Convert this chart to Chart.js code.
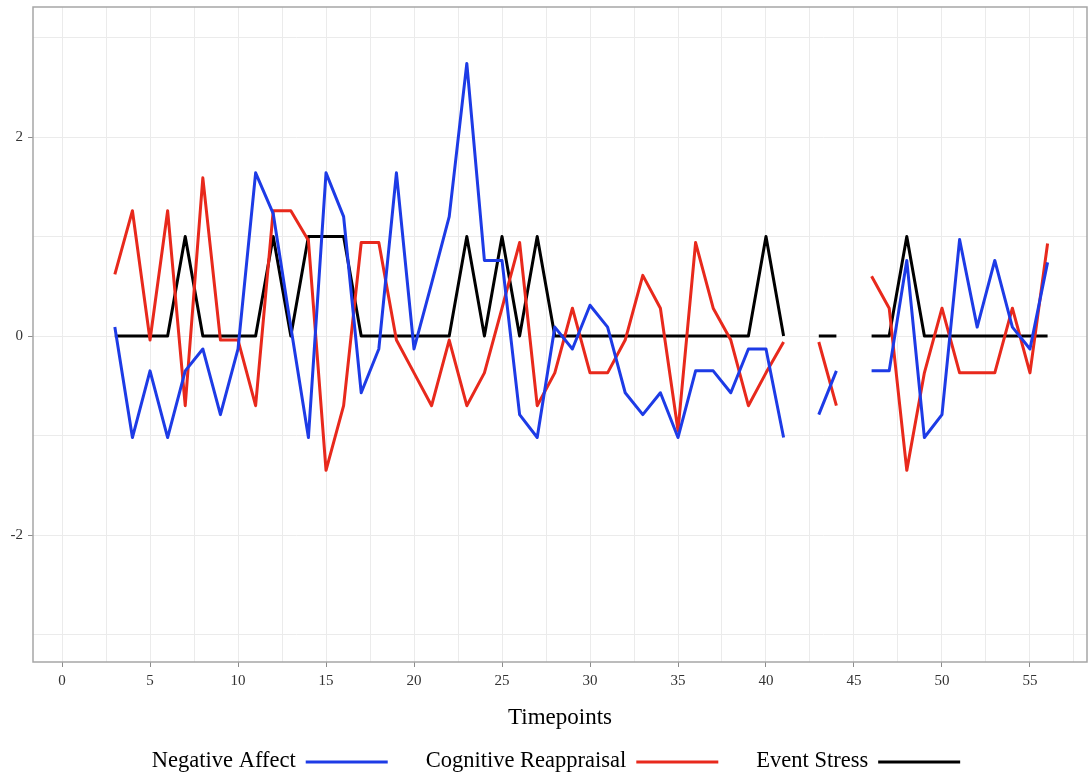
<!DOCTYPE html>
<html><head><meta charset="utf-8">
<script src="https://cdn.jsdelivr.net/npm/chart.js@4.4.1/dist/chart.umd.min.js"></script>
<style>html,body{margin:0;padding:0;background:#fff;}canvas{display:block}</style>
</head><body>
<canvas id="c" width="1088" height="776"></canvas>
<script>
// ---- data ----
const timepoints = [3,4,5,6,7,8,9,10,11,12,13,14,15,16,17,18,19,20,21,22,23,24,25,26,27,28,29,30,31,32,33,34,35,36,37,38,39,40,41,42,43,44,45,46,47,48,49,50,51,52,53,54,55,56];
const negativeAffect = [0.09,-1.02,-0.35,-1.02,-0.35,-0.13,-0.79,-0.13,1.64,1.23,0.09,-1.02,1.64,1.2,-0.57,-0.13,1.64,-0.13,0.53,1.2,2.74,0.76,0.76,-0.79,-1.02,0.09,-0.13,0.31,0.09,-0.57,-0.79,-0.57,-1.02,-0.35,-0.35,-0.57,-0.13,-0.13,-1.02,null,-0.79,-0.35,null,-0.35,-0.35,0.76,-1.02,-0.79,0.97,0.09,0.76,0.09,-0.13,0.74];
const cognitiveReappraisal = [0.62,1.26,-0.04,1.26,-0.70,1.59,-0.04,-0.04,-0.70,1.26,1.26,0.96,-1.35,-0.70,0.94,0.94,-0.04,-0.37,-0.70,-0.04,-0.70,-0.37,0.28,0.94,-0.70,-0.37,0.28,-0.37,-0.37,-0.04,0.61,0.28,-0.95,0.94,0.28,-0.04,-0.70,-0.37,-0.06,null,-0.06,-0.70,null,0.60,0.28,-1.35,-0.37,0.28,-0.37,-0.37,-0.37,0.28,-0.37,0.93];
const eventStress = [0,0,0,0,1,0,0,0,0,1,0,1,1,1,0,0,0,0,0,0,1,0,1,0,1,0,0,0,0,0,0,0,0,0,0,0,0,1,0,null,0,0,null,0,0,1,0,0,0,0,0,0,0,0];
const seriesNames = ['Negative Affect','Cognitive Reappraisal','Event Stress'];
const seriesColors = ['#1d3be6','#e8291c','#000000'];
const xTickLabels = [0,5,10,15,20,25,30,35,40,45,50,55];
const xGridValues = [0,2.5,5,7.5,10,12.5,15,17.5,20,22.5,25,27.5,30,32.5,35,37.5,40,42.5,45,47.5,50,52.5,55,57.5];
const yTickLabels = [-2,0,2];
const yGridValues = [-3,-2,-1,0,1,2,3];
const xTitle = 'Timepoints';

const toPoints = vals => timepoints.map((t,i) => ({x:t, y:vals[i]}));
const seriesValues = [negativeAffect, cognitiveReappraisal, eventStress];

const SERIF = '"Liberation Serif", "DejaVu Serif", serif';

const frameAndLegend = {
  id: 'frameAndLegend',
  afterDraw(chart) {
    const ctx = chart.ctx;
    const a = chart.chartArea;
    ctx.save();
    ctx.strokeStyle = '#a6a6a6';
    ctx.lineWidth = 1.5;
    ctx.strokeRect(a.left, a.top, a.right - a.left, a.bottom - a.top);
    // legend: text then line sample
    ctx.font = '22.5px ' + SERIF;
    ctx.textBaseline = 'middle';
    ctx.textAlign = 'left';
    const lineLen = 82, textGap = 10, itemGap = 38;
    const items = chart.data.datasets.map(d => ({text: d.label, color: d.borderColor}));
    let total = 0;
    items.forEach((it, i) => { it.w = ctx.measureText(it.text).width; total += it.w + textGap + lineLen + (i ? itemGap : 0); });
    let x = (a.left + a.right) / 2 - 4 - total / 2;
    const y = 761;
    items.forEach(it => {
      ctx.fillStyle = '#000';
      ctx.fillText(it.text, x, y);
      x += it.w + textGap;
      ctx.strokeStyle = it.color;
      ctx.lineWidth = 3;
      ctx.beginPath();
      ctx.moveTo(x, y + 1);
      ctx.lineTo(x + lineLen, y + 1);
      ctx.stroke();
      x += lineLen + itemGap;
    });
    ctx.restore();
  }
};

new Chart(document.getElementById('c'), {
  type: 'line',
  data: {
    datasets: seriesNames.map((name, i) => ({
      label: name,
      data: toPoints(seriesValues[i]),
      borderColor: seriesColors[i],
      backgroundColor: seriesColors[i],
      borderWidth: 3,
      borderJoinStyle: 'round',
      pointRadius: 0,
      tension: 0,
      spanGaps: false,
      fill: false
    }))
  },
  options: {
    responsive: false,
    animation: false,
    layout: { padding: { top: 7, right: 1, left: 0, bottom: 0 } },
    plugins: { legend: { display: false }, tooltip: { enabled: false } },
    scales: {
      x: {
        type: 'linear',
        min: -1.65,
        max: 58.24,
        afterBuildTicks: s => { s.ticks = xGridValues.map(v => ({value: v})); },
        afterFit: s => { s.height = 114; s.paddingLeft = 0; s.paddingRight = 0; },
        ticks: {
          autoSkip: false,
          maxRotation: 0,
          padding: 5,
          color: '#333',
          font: { family: SERIF, size: 15 },
          callback: v => xTickLabels.includes(v) ? String(v) : ''
        },
        grid: {
          color: '#ebebeb',
          lineWidth: 1,
          tickLength: 5,
          tickColor: c => (c.tick && xTickLabels.includes(c.tick.value)) ? '#8c8c8c' : 'rgba(0,0,0,0)'
        },
        border: { display: false },
        title: {
          display: true,
          text: xTitle,
          color: '#000',
          font: { family: SERIF, size: 23, lineHeight: 1.2 },
          padding: { top: 0, bottom: 44 }
        }
      },
      y: {
        type: 'linear',
        min: -3.276,
        max: 3.307,
        afterBuildTicks: s => { s.ticks = yGridValues.map(v => ({value: v})); },
        afterFit: s => { s.width = 33; s.paddingTop = 0; s.paddingBottom = 0; },
        ticks: {
          autoSkip: false,
          padding: 5,
          color: '#333',
          font: { family: SERIF, size: 15 },
          callback: v => yTickLabels.includes(v) ? String(v) : ''
        },
        grid: {
          color: '#ebebeb',
          lineWidth: 1,
          tickLength: 5,
          tickColor: c => (c.tick && yTickLabels.includes(c.tick.value)) ? '#8c8c8c' : 'rgba(0,0,0,0)'
        },
        border: { display: false }
      }
    }
  },
  plugins: [frameAndLegend]
});
</script>
</body></html>
